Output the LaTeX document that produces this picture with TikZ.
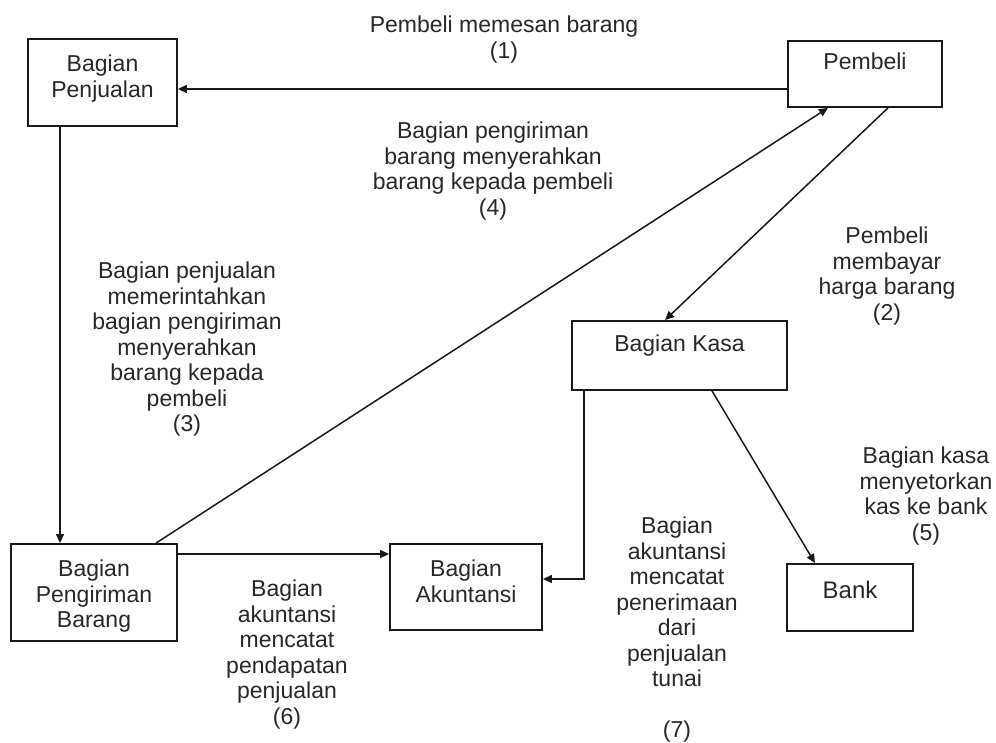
\documentclass[tikz,border=0pt]{standalone}
\usepackage{fontspec}
\setmainfont{Liberation Sans}
\usetikzlibrary{arrows.meta}
\definecolor{txt}{RGB}{40,40,40}
\definecolor{ln}{RGB}{25,25,25}
\begin{document}
\begin{tikzpicture}[x=1pt,y=-1pt,
  box/.style={draw=ln,line width=1.8pt,rectangle,inner sep=0pt,fill=white},
  lbl/.style={anchor=north,inner sep=0pt,align=center,text=txt,font=\fontsize{23}{25.5}\selectfont},
  arr/.style={draw=ln,line width=1.5pt,-{Triangle[length=9pt,width=8pt]}}]
\useasboundingbox[fill=white] (0,0) rectangle (996,743);
% boxes
\node[box,minimum width=149pt,minimum height=87pt] (pj) at (102.5,82.5) {};
\node[box,minimum width=154pt,minimum height=66pt] (pb) at (865,74) {};
\node[box,minimum width=215pt,minimum height=69pt] (ks) at (679.5,355.5) {};
\node[box,minimum width=166pt,minimum height=97pt] (pg) at (94,592.5) {};
\node[box,minimum width=152pt,minimum height=86pt] (ak) at (466,587) {};
\node[box,minimum width=126pt,minimum height=67pt] (bk) at (850,597.5) {};
% box texts
\node[lbl] (tpj) at (102.5,55) {Bagian\\Penjualan};
\node[lbl] (tpb) at (865,53) {Pembeli};
\node[lbl] (tks) at (679.5,335) {Bagian Kasa};
\node[lbl] (tpg) at (94,560) {Bagian\\Pengiriman\\Barang};
\node[lbl] (tak) at (466,560) {Bagian\\Akuntansi};
\node[lbl,font=\fontsize{24}{26}\selectfont] (tbk) at (850,581) {Bank};
% arrows
\draw[arr] ([yshift=-15pt]pb.west) -- ([yshift=-15pt]pb.west -| pj.east);
\draw[arr] ([xshift=-42.5pt]pj.south) -- ([xshift=-42.5pt]pj.south |- pg.north);
\draw[arr] ([xshift=62pt]pg.north) -- ([xshift=-37pt]pb.south);
\draw[arr] ([xshift=23pt]pb.south) -- ([xshift=-14.5pt]ks.north);
\draw[arr] ([yshift=38.5pt]pg.east) -- ([yshift=38.5pt]pg.east -| ak.west);
\draw[arr] ([xshift=-95.5pt]ks.south) |- ([yshift=8pt]ak.east);
\draw[arr] ([xshift=32.5pt]ks.south) -- ([xshift=-35pt]bk.north);
% labels
\node[lbl] (l1) at (504,16) {Pembeli memesan barang\\(1)};
\node[lbl] (l4) at (493,122) {Bagian pengiriman\\barang menyerahkan\\barang kepada pembeli\\(4)};
\node[lbl] (l2) at (887,227) {Pembeli\\membayar\\harga barang\\(2)};
\node[lbl] (l3) at (187,262) {Bagian penjualan\\memerintahkan\\bagian pengiriman\\menyerahkan\\barang kepada\\pembeli\\(3)};
\node[lbl] (l5) at (926,447) {Bagian kasa\\menyetorkan\\kas ke bank\\(5)};
\node[lbl] (l6) at (287,580) {Bagian\\akuntansi\\mencatat\\pendapatan\\penjualan\\(6)};
\node[lbl] (l7) at (677,517) {Bagian\\akuntansi\\mencatat\\penerimaan\\dari\\penjualan\\tunai\\ \\(7)};
\end{tikzpicture}
\end{document}
